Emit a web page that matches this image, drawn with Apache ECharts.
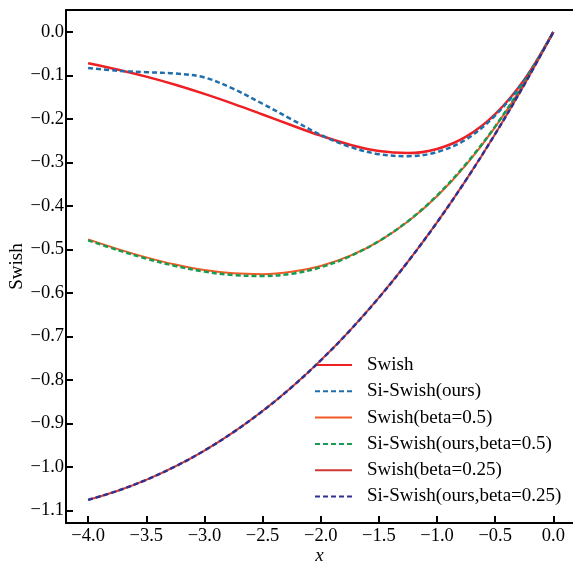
<!DOCTYPE html>
<html>
<head>
<meta charset="utf-8">
<script src="https://cdn.jsdelivr.net/npm/echarts@6/dist/echarts.min.js"></script>
<style>
html,body{margin:0;padding:0;background:#fff;}
#chart{width:573px;height:567px;}
</style>
</head>
<body>
<div id="chart"></div>
<script>
var xValues = [-4, -3.75, -3.5, -3.25, -3, -2.75, -2.5, -2.25, -2, -1.75, -1.5, -1.25, -1, -0.75, -0.5, -0.25, 0];

var swish        = [-0.0719, -0.0862, -0.1026, -0.1213, -0.1423, -0.1652, -0.1896, -0.2145, -0.2384, -0.2591, -0.2736, -0.2784, -0.2689, -0.2406, -0.1888, -0.1095, 0];
var siSwish      = [-0.0830, -0.0890, -0.0925, -0.0955, -0.1045, -0.1310, -0.1650, -0.2010, -0.2365, -0.2640, -0.2810, -0.2855, -0.2760, -0.2470, -0.1920, -0.1110, 0];
var swish05      = [-0.4768, -0.4986, -0.5182, -0.5347, -0.5473, -0.5550, -0.5568, -0.5514, -0.5379, -0.5149, -0.4812, -0.4358, -0.3775, -0.3055, -0.2189, -0.1172, 0];
var siSwish05    = [-0.4790, -0.5010, -0.5210, -0.5380, -0.5510, -0.5590, -0.5610, -0.5560, -0.5410, -0.5160, -0.4810, -0.4350, -0.3760, -0.3030, -0.2170, -0.1160, 0];
var swish025     = [-1.0758, -1.0553, -1.0297, -0.9989, -0.9625, -0.9201, -0.8716, -0.8167, -0.7551, -0.6866, -0.6110, -0.5281, -0.4378, -0.3399, -0.2344, -0.1211, 0];
var siSwish025   = [-1.0758, -1.0553, -1.0297, -0.9989, -0.9625, -0.9201, -0.8716, -0.8167, -0.7551, -0.6866, -0.6110, -0.5281, -0.4378, -0.3399, -0.2344, -0.1211, 0];

var xTicks = [-4, -3.5, -3, -2.5, -2, -1.5, -1, -0.5, 0];
var yTicks = [-1.1, -1.0, -0.9, -0.8, -0.7, -0.6, -0.5, -0.4, -0.3, -0.2, -0.1, 0];

var seriesNames = ['Swish', 'Si-Swish(ours)', 'Swish(beta=0.5)', 'Si-Swish(ours,beta=0.5)', 'Swish(beta=0.25)', 'Si-Swish(ours,beta=0.25)'];
var seriesData = [swish, siSwish, swish05, siSwish05, swish025, siSwish025];
var seriesColors = ['#ee2024', '#1f6fad', '#f15a24', '#1a9a50', '#d03a36', '#2e3192'];
var seriesWidths = [2.5, 2.5, 2, 2.5, 2, 2.5];
var seriesDashed = [false, true, false, true, false, true];

function pairs(ys) {
  return xValues.map(function (x, i) { return [x, ys[i]]; });
}
function fmt(v) {
  var s = Number(v).toFixed(1);
  if (s === '-0.0') s = '0.0';
  return s.replace('-', '\u2212');
}

var FONT = '"Liberation Serif", "Times New Roman", serif';

var series = seriesNames.map(function (name, i) {
  return {
    name: name,
    type: 'line',
    data: pairs(seriesData[i]),
    smooth: 0.35,
    symbol: 'none',
    showSymbol: false,
    animation: false,
    lineStyle: {
      color: seriesColors[i],
      width: seriesWidths[i],
      type: seriesDashed[i] ? [5, 3] : 'solid'
    },
    itemStyle: { color: seriesColors[i] },
    z: 2 + i
  };
});

var chart = echarts.init(document.getElementById('chart'), null, { renderer: 'canvas' });
chart.setOption({
  animation: false,
  backgroundColor: '#ffffff',
  grid: { left: 66, top: 10, right: 0, bottom: 44, containLabel: false, outerBoundsMode: 'none' },
  xAxis: [{
    type: 'value',
    min: -4.19,
    max: 0.169,
    position: 'bottom',
    name: 'x',
    nameLocation: 'middle',
    nameGap: 23,
    nameMoveOverlap: false,
    nameTextStyle: { fontFamily: FONT, fontSize: 19, fontStyle: 'italic', color: '#000' },
    axisLine: { show: true, onZero: false, lineStyle: { color: '#000', width: 2 } },
    axisTick: { show: true, inside: true, length: 7, lineStyle: { color: '#000', width: 2 }, customValues: xTicks },
    axisLabel: { show: true, margin: 4, fontFamily: FONT, fontSize: 18.5, color: '#000', customValues: xTicks, formatter: fmt },
    splitLine: { show: false }
  }, {
    type: 'value',
    min: -4.19,
    max: 0.169,
    position: 'top',
    axisLine: { show: true, onZero: false, lineStyle: { color: '#000', width: 2 } },
    axisTick: { show: false },
    axisLabel: { show: false },
    splitLine: { show: false }
  }],
  yAxis: {
    type: 'value',
    min: -1.129,
    max: 0.0506,
    name: 'Swish',
    nameLocation: 'middle',
    nameGap: 39,
    nameMoveOverlap: false,
    nameTextStyle: { fontFamily: FONT, fontSize: 19, color: '#000' },
    axisLine: { show: true, onZero: false, lineStyle: { color: '#000', width: 2 } },
    axisTick: { show: true, inside: true, length: 7, lineStyle: { color: '#000', width: 2 }, customValues: yTicks },
    axisLabel: { show: true, margin: 2, fontFamily: FONT, fontSize: 18.5, color: '#000', customValues: yTicks, formatter: fmt },
    splitLine: { show: false }
  },
  legend: {
    data: seriesNames,
    orient: 'vertical',
    left: 314,
    top: 355,
    padding: 0,
    itemWidth: 37,
    itemHeight: 20,
    itemGap: 6.3,
    itemStyle: { color: 'rgba(0,0,0,0)', borderWidth: 0, opacity: 0 },
    textStyle: { fontFamily: FONT, fontSize: 19, color: '#000', lineHeight: 20, padding: [0, 0, 0, 10] }
  },
  series: series
});
</script>
</body>
</html>
